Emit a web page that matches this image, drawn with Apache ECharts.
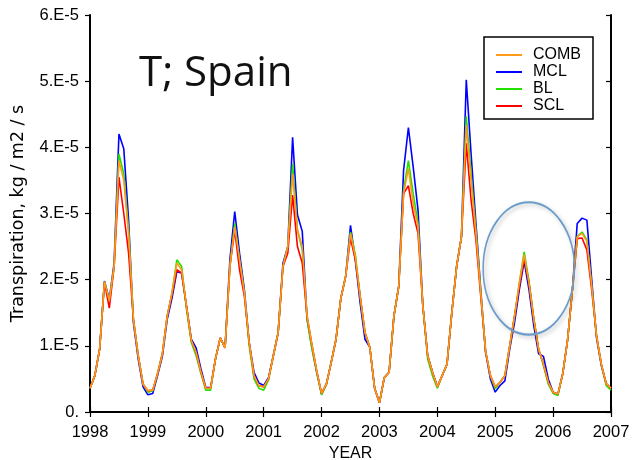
<!DOCTYPE html>
<html>
<head>
<meta charset="utf-8">
<script src="https://cdn.jsdelivr.net/npm/echarts@6/dist/echarts.min.js"></script>
<style>
  html, body { margin: 0; padding: 0; background: #fff; }
  #main { width: 635px; height: 460px; }
</style>
</head>
<body>
<div id="main"></div>
<script>
// monthly values, Jan 1998 .. Jan 2007, in units of 1e-5 kg / m2 / s
const years = ['1998', '1999', '2000', '2001', '2002', '2003', '2004', '2005', '2006', '2007'];
const yTickLabels = ['0.', '1.E-5', '2.E-5', '3.E-5', '4.E-5', '5.E-5', '6.E-5'];

const comb = [
  0.36, 0.55, 0.95, 1.97, 1.68, 2.20, 3.80, 3.50, 2.70, 1.40, 0.85, 0.42,
  0.32, 0.33, 0.58, 0.88, 1.45, 1.80, 2.25, 2.15, 1.60, 1.08, 0.90, 0.60,
  0.36, 0.36, 0.80, 1.12, 0.97, 2.20, 2.80, 2.30, 1.80, 1.05, 0.55, 0.40,
  0.38, 0.50, 0.85, 1.20, 2.20, 2.50, 3.60, 2.75, 2.50, 1.45, 1.02, 0.62,
  0.28, 0.42, 0.75, 1.10, 1.72, 2.05, 2.70, 2.35, 1.75, 1.20, 0.98, 0.36,
  0.14, 0.52, 0.60, 1.45, 1.90, 3.30, 3.68, 3.15, 2.80, 1.60, 0.85, 0.60,
  0.38, 0.55, 0.72, 1.50, 2.20, 2.65, 4.34, 3.50, 2.70, 1.80, 0.92, 0.55,
  0.38, 0.45, 0.55, 1.00, 1.45, 1.95, 2.38, 1.95, 1.40, 0.95, 0.72, 0.45,
  0.30, 0.27, 0.58, 1.09, 1.85, 2.65, 2.70, 2.58, 1.90, 1.15, 0.72, 0.43,
  0.36
];
const mcl = [
  0.36, 0.55, 0.95, 1.98, 1.70, 2.25, 4.20, 3.98, 2.90, 1.35, 0.80, 0.38,
  0.26, 0.28, 0.55, 0.84, 1.40, 1.72, 2.12, 2.10, 1.60, 1.10, 0.97, 0.65,
  0.37, 0.37, 0.80, 1.12, 0.97, 2.30, 3.03, 2.40, 1.85, 1.05, 0.60, 0.44,
  0.40, 0.52, 0.85, 1.20, 2.25, 2.50, 4.15, 2.98, 2.73, 1.40, 0.98, 0.60,
  0.27, 0.42, 0.75, 1.10, 1.72, 2.05, 2.82, 2.30, 1.65, 1.10, 0.98, 0.36,
  0.14, 0.52, 0.60, 1.45, 1.90, 3.65, 4.30, 3.70, 3.05, 1.60, 0.85, 0.60,
  0.38, 0.55, 0.72, 1.50, 2.20, 2.65, 5.02, 3.90, 2.85, 1.85, 0.90, 0.50,
  0.30, 0.40, 0.47, 0.95, 1.35, 1.85, 2.28, 1.85, 1.30, 0.88, 0.84, 0.50,
  0.30, 0.27, 0.58, 1.09, 1.85, 2.85, 2.93, 2.90, 2.00, 1.12, 0.70, 0.43,
  0.35
];
const bl = [
  0.36, 0.55, 0.95, 1.97, 1.68, 2.20, 3.90, 3.60, 2.75, 1.40, 0.85, 0.42,
  0.30, 0.32, 0.58, 0.88, 1.45, 1.80, 2.30, 2.20, 1.55, 1.05, 0.85, 0.58,
  0.33, 0.33, 0.80, 1.12, 0.97, 2.20, 2.85, 2.30, 1.80, 1.00, 0.50, 0.36,
  0.33, 0.48, 0.85, 1.20, 2.20, 2.50, 3.75, 2.75, 2.45, 1.40, 0.95, 0.60,
  0.26, 0.42, 0.75, 1.10, 1.72, 2.05, 2.72, 2.38, 1.75, 1.20, 0.98, 0.36,
  0.14, 0.52, 0.60, 1.45, 1.90, 3.35, 3.80, 3.30, 2.85, 1.60, 0.80, 0.55,
  0.36, 0.55, 0.72, 1.50, 2.20, 2.65, 4.47, 3.60, 2.75, 1.80, 0.92, 0.55,
  0.35, 0.45, 0.55, 1.00, 1.45, 1.95, 2.42, 1.98, 1.42, 0.95, 0.70, 0.42,
  0.28, 0.25, 0.58, 1.09, 1.85, 2.65, 2.72, 2.60, 1.90, 1.15, 0.72, 0.40,
  0.33
];
const scl = [
  0.36, 0.55, 0.95, 1.96, 1.57, 2.20, 3.55, 3.00, 2.40, 1.40, 0.85, 0.42,
  0.32, 0.33, 0.58, 0.88, 1.45, 1.78, 2.15, 2.10, 1.60, 1.08, 0.90, 0.60,
  0.36, 0.36, 0.80, 1.12, 0.97, 2.20, 2.75, 2.15, 1.75, 1.05, 0.55, 0.40,
  0.38, 0.50, 0.85, 1.20, 2.20, 2.40, 3.28, 2.50, 2.25, 1.45, 1.02, 0.62,
  0.28, 0.42, 0.75, 1.10, 1.72, 2.05, 2.63, 2.30, 1.75, 1.20, 0.98, 0.36,
  0.14, 0.52, 0.60, 1.45, 1.90, 3.30, 3.42, 3.00, 2.70, 1.60, 0.85, 0.60,
  0.38, 0.55, 0.72, 1.50, 2.20, 2.65, 4.06, 3.20, 2.60, 1.75, 0.92, 0.55,
  0.38, 0.45, 0.55, 1.00, 1.45, 1.90, 2.32, 1.95, 1.40, 0.95, 0.72, 0.45,
  0.30, 0.27, 0.58, 1.09, 1.85, 2.62, 2.63, 2.45, 1.85, 1.15, 0.72, 0.43,
  0.36
];

const font = 'Liberation Sans';

function toPoints(arr) {
  return arr.map((v, i) => [1998 + i / 12, v]);
}

function makeSeries(name, arr, color) {
  return {
    name: name,
    type: 'line',
    data: toPoints(arr),
    symbol: 'none',
    lineStyle: { color: color, width: 1.6 },
    itemStyle: { color: color },
    animation: false
  };
}

let myChart = echarts.init(document.getElementById('main'));
let option = {
  backgroundColor: '#fff',
  animation: false,
  title: {
    text: 'T; Spain',
    left: 134,
    top: 48,
    textStyle: { fontFamily: 'Open Sans', fontSize: 42, fontWeight: 'normal', color: '#111' }
  },
  legend: {
    orient: 'vertical',
    left: 484,
    top: 37,
    data: ['COMB', 'MCL', 'BL', 'SCL'],
    icon: 'rect',
    itemWidth: 26,
    itemHeight: 2,
    itemGap: 1,
    padding: [10, 12, 5, 12],
    borderColor: '#000',
    borderWidth: 1.5,
    borderRadius: 0,
    textStyle: { fontFamily: font, fontSize: 16, color: '#000', lineHeight: 14, padding: [0, 0, 0, 6] }
  },
  grid: { left: 90, right: 24, top: 15, bottom: 48, containLabel: false, outerBoundsMode: 'none' },
  xAxis: [
    {
      type: 'value',
      position: 'bottom',
      min: 1998,
      max: 2007,
      interval: 1,
      name: 'YEAR',
      nameLocation: 'middle',
      nameGap: 32,
      nameTextStyle: { fontFamily: font, fontSize: 16, color: '#000' },
      axisLine: { lineStyle: { color: '#000', width: 2 } },
      axisTick: { lineStyle: { color: '#000', width: 1.2 }, length: 5 },
      axisLabel: {
        fontFamily: font, fontSize: 16.5, color: '#000', margin: 12,
        formatter: v => years[Math.round(v - 1998)]
      },
      splitLine: { show: false }
    },
    {
      type: 'value',
      position: 'top',
      min: 1998,
      max: 2007,
      interval: 1,
      axisLine: { lineStyle: { color: '#000', width: 1.5 } },
      axisTick: { lineStyle: { color: '#000', width: 1.2 }, length: 5 },
      axisLabel: { show: false },
      splitLine: { show: false }
    }
  ],
  yAxis: [
    {
      type: 'value',
      position: 'left',
      min: 0,
      max: 6,
      interval: 1,
      name: 'Transpiration, kg / m2 / s',
      nameLocation: 'middle',
      nameGap: 63,
      nameTextStyle: { fontFamily: 'DejaVu Sans', fontSize: 17.5, color: '#000' },
      axisLine: { show: true, lineStyle: { color: '#000', width: 2 } },
      axisTick: { show: true, lineStyle: { color: '#000', width: 1.2 }, length: 5 },
      axisLabel: {
        fontFamily: font, fontSize: 16.5, color: '#000', margin: 11,
        formatter: v => yTickLabels[Math.round(v)]
      },
      splitLine: { show: false }
    },
    {
      type: 'value',
      position: 'right',
      min: 0,
      max: 6,
      interval: 1,
      axisLine: { show: true, lineStyle: { color: '#000', width: 2 } },
      axisTick: { show: true, inside: true, lineStyle: { color: '#000', width: 1.2 }, length: 5 },
      axisLabel: { show: false },
      splitLine: { show: false }
    }
  ],
  series: [
    makeSeries('MCL', mcl, '#0000ff'),
    makeSeries('BL', bl, '#22e000'),
    makeSeries('SCL', scl, '#ff0000'),
    makeSeries('COMB', comb, '#ff9a1a')
  ]
};
myChart.setOption(option);

// the hand-drawn ring around mid 2005
const ringCenter = myChart.convertToPixel({ xAxisIndex: 0, yAxisIndex: 0 }, [2005.58, 2.17]);
const ringTop = myChart.convertToPixel({ xAxisIndex: 0, yAxisIndex: 0 }, [2005.58, 3.17]);
const ry = ringCenter[1] - ringTop[1];
const rx = ry * 0.69;
myChart.setOption({
  graphic: [{
    type: 'circle',
    x: ringCenter[0],
    y: ringCenter[1],
    scaleX: rx / ry,
    shape: { cx: 0, cy: 0, r: ry },
    style: {
      fill: 'none',
      stroke: '#6a9ccc',
      lineWidth: 2.2,
      strokeNoScale: true,
      shadowBlur: 4,
      shadowOffsetX: 2,
      shadowOffsetY: 2,
      shadowColor: 'rgba(0,0,0,0.25)'
    },
    z: 100
  }]
});
</script>
</body>
</html>
